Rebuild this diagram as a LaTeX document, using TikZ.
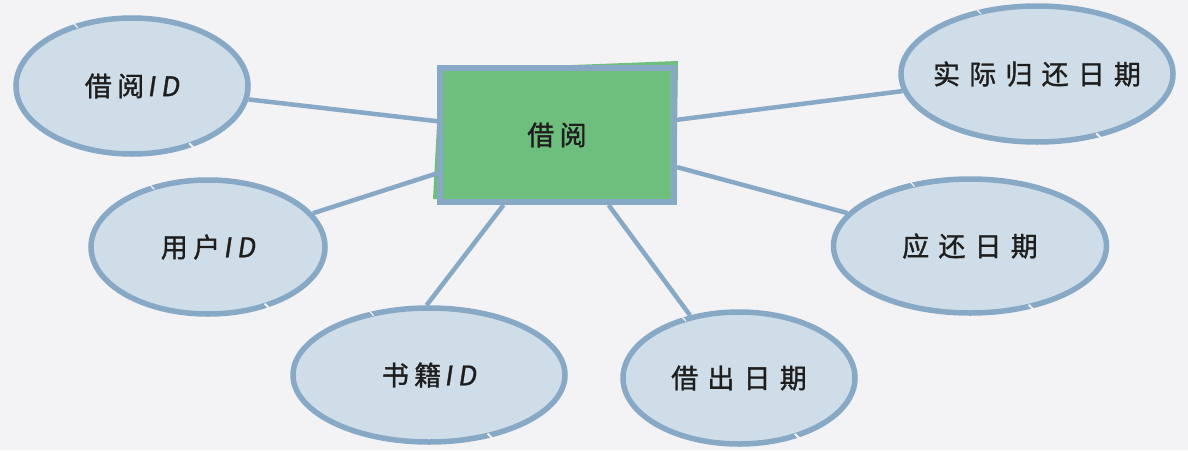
\documentclass[tikz,border=0pt]{standalone}
\usepackage{fontspec}
\newfontfamily\cjk[LetterSpace=20,FakeBold=1.2]{Noto Sans CJK SC}
\newfontfamily\cjkw[LetterSpace=34,FakeBold=1.2]{Noto Sans CJK SC}
\newfontfamily\cjki[LetterSpace=20,FakeBold=1.2,FakeSlant=0.15]{Noto Sans CJK SC}
\usetikzlibrary{shapes.geometric,calc}
\definecolor{bg}{HTML}{F3F3F5}
\definecolor{efill}{HTML}{CFDDE8}
\definecolor{edge}{HTML}{87A9C6}
\definecolor{rfill}{HTML}{6EBF7D}
\definecolor{ink}{HTML}{1E1E1E}
\newcommand{\idtxt}{{\cjki\hspace{3pt}ID}}
\newcommand{\zw}[1]{\makebox[0pt]{#1}}
\begin{document}
\begin{tikzpicture}[x=1pt,y=-1pt,
  attr/.style={ellipse, fill=efill, draw=edge, line width=5.5pt, inner sep=0pt, text=ink,
    font=\cjk\fontsize{27}{30}\selectfont},
  attrw/.style={attr, font=\cjkw\fontsize{27}{30}\selectfont},
  entity/.style={rectangle, fill=rfill, draw=edge, line width=6pt, inner sep=0pt, text=ink,
    font=\cjk\fontsize{27}{30}\selectfont},
  conn/.style={draw=edge, line width=4.5pt},
  gapmark/.style={draw=bg, line width=2pt}]
\fill[bg] (0,0) rectangle (1188,450);
\useasboundingbox (0,0) rectangle (1188,450);

% entity with slightly skewed fill
\fill[rfill] (440,70) -- (678,61) -- (676,205) -- (433,199) -- cycle;
\node[entity, minimum width=234pt, minimum height=134pt] (jy) at (557,135) {借阅};

% attributes
\node[attr, minimum width=232pt, minimum height=136pt] (jyid) at (132,86) {\zw{借阅\idtxt}};
\node[attr, minimum width=234pt, minimum height=134pt] (yhid) at (208,247) {\zw{用户\idtxt}};
\node[attr, minimum width=272pt, minimum height=134pt] (sjid) at (429,375) {\zw{书籍\idtxt}};
\node[attrw, minimum width=232pt, minimum height=132pt] (jcrq) at (739,378) {\zw{借出日期}};
\node[attrw, minimum width=273pt, minimum height=134pt] (yhrq) at (970,246) {\zw{应还日期}};
\node[attrw, minimum width=272pt, minimum height=136pt] (sjgh) at (1037,74) {\zw{实际归还日期}};

% connectors
\draw[conn] (jyid) -- (jy);
\draw[conn] (yhid) -- (jy);
\draw[conn] (jy) -- (sjid.92);
\draw[conn] (jy) -- (jcrq.128);
\draw[conn] (jy) -- (yhrq);
\draw[conn] (jy) -- (sjgh);

% sketchy gaps in outlines
\foreach \n in {jyid,yhid,sjid,jcrq,yhrq,sjgh}{
  \draw[gapmark] ($(\n.center)!0.94!(\n.-45)$) -- ($(\n.center)!1.06!(\n.-45)$);
  \draw[gapmark, line width=1.2pt] ($(\n.center)!0.94!(\n.133)$) -- ($(\n.center)!1.06!(\n.133)$);
}
\end{tikzpicture}
\end{document}
